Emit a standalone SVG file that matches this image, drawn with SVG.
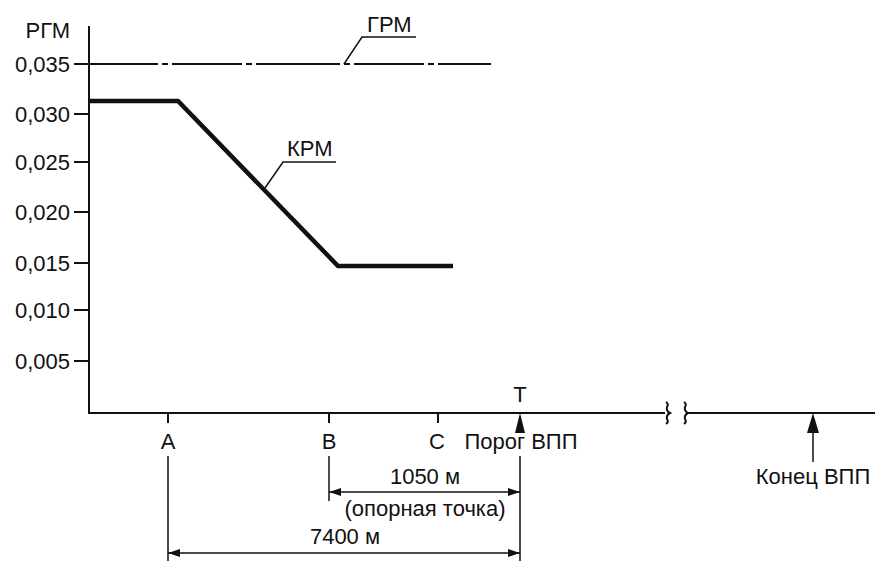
<svg xmlns="http://www.w3.org/2000/svg" width="875" height="561" viewBox="0 0 875 561">
<defs>
<style>
text{font-family:"Liberation Sans",Arial,sans-serif;font-size:22px;fill:#111}
.ax{stroke:#111;stroke-width:2;fill:none}
.thin{stroke:#111;stroke-width:1.5;fill:none}
.thick{stroke:#111;stroke-width:4.5;fill:none;stroke-linejoin:miter}
.dd{stroke:#111;stroke-width:1.8;fill:none;stroke-dasharray:84 4 6 4 70 4 6 4}
.ylab{text-anchor:end}
.mid{text-anchor:middle}
</style>
<marker id="arr" viewBox="0 0 12 8" refX="12" refY="4" markerWidth="12" markerHeight="8" markerUnits="userSpaceOnUse" orient="auto-start-reverse">
<path d="M0,0 L12,4 L0,8 Z" fill="#111"/>
</marker>
</defs>
<rect width="875" height="561" fill="#fff"/>

<g id="axes">
<path class="ax" d="M89,26 V413 H665"/>
<path class="ax" d="M686,413 H875"/>
<path class="ax" d="M666,402 q3,2 1,5 q-1,4 3,6 q-4,2 -3,6 q2,3 -1,5" stroke-width="1.8"/>
<path class="ax" d="M684,402 q3,2 1,5 q-1,4 3,6 q-4,2 -3,6 q2,3 -1,5" stroke-width="1.8"/>
<path class="ax" d="M74,114 H89 M74,162 H89 M74,212 H89 M74,263 H89 M74,310 H89 M74,361 H89"/>
<path class="ax" d="M168,413 V423 M329,413 V423 M438,413 V423"/>
</g>

<g id="y-labels">
<text class="ylab" x="70" y="38">РГМ</text>
<text class="ylab" x="70" y="72">0,035</text>
<text class="ylab" x="70" y="122">0,030</text>
<text class="ylab" x="70" y="170">0,025</text>
<text class="ylab" x="70" y="220">0,020</text>
<text class="ylab" x="70" y="271">0,015</text>
<text class="ylab" x="70" y="318">0,010</text>
<text class="ylab" x="70" y="369">0,005</text>
</g>

<g id="grm">
<line class="dd" x1="74" y1="64" x2="491" y2="64"/>
<path class="thin" d="M344,64 L362,37 H416"/>
<text x="367" y="32">ГРМ</text>
</g>

<g id="krm">
<path class="thick" d="M89,101 H178 L338,266 H453"/>
<path class="thin" d="M265,188 L283,162 H336"/>
<text x="287" y="156">КРМ</text>
</g>

<g id="x-labels">
<text class="mid" x="168" y="449">A</text>
<text class="mid" x="329" y="449">B</text>
<text class="mid" x="437" y="449">C</text>
<text class="mid" x="520" y="402">T</text>
</g>

<g id="threshold">
<path d="M520,413 L525,433 L515,433 Z" fill="#111"/>
<text class="mid" x="521" y="449">Порог ВПП</text>
</g>

<g id="runway-end">
<path d="M813,413 L819,433 L807,433 Z" fill="#111"/>
<line class="thin" x1="813" y1="432" x2="813" y2="462"/>
<text class="mid" x="813" y="484">Конец ВПП</text>
</g>

<g id="connectors">
<line class="thin" x1="520" y1="456" x2="520" y2="561"/>
<line class="thin" x1="329" y1="456" x2="329" y2="501"/>
<line class="thin" x1="168" y1="456" x2="168" y2="561"/>
<line class="thin" x1="329" y1="492" x2="520" y2="492" marker-start="url(#arr)" marker-end="url(#arr)"/>
<line class="thin" x1="168" y1="553" x2="520" y2="553" marker-start="url(#arr)" marker-end="url(#arr)"/>
</g>

<g id="dim-labels">
<text class="mid" x="425" y="484">1050 м</text>
<text class="mid" x="425" y="516">(опорная точка)</text>
<text class="mid" x="345" y="544">7400 м</text>
</g>
</svg>
